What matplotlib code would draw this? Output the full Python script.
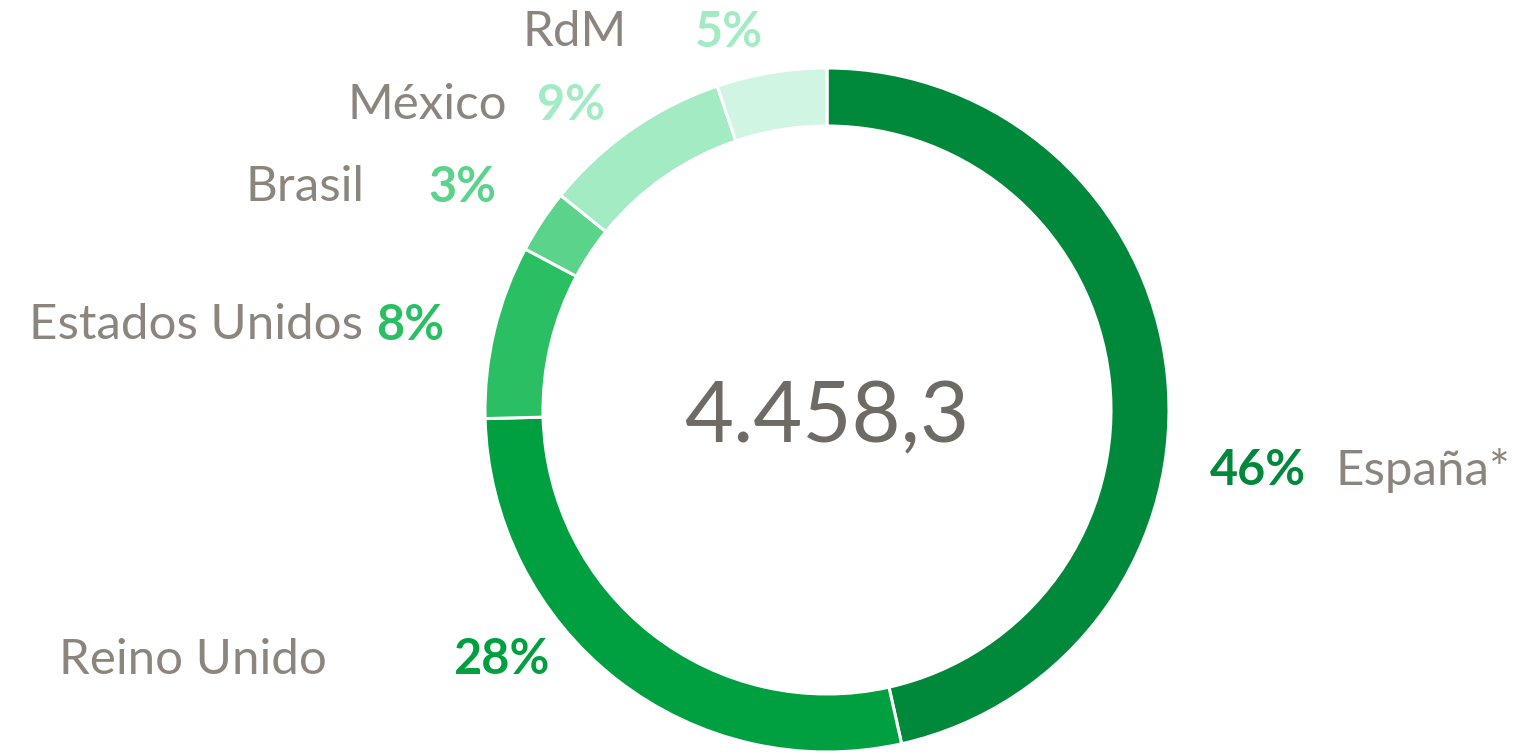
import matplotlib
matplotlib.use("Agg")
import matplotlib.pyplot as plt

# Data
categories = ["España*", "Reino Unido", "Estados Unidos", "Brasil", "México", "RdM"]
values = [46.5, 28.1, 8.2, 3.0, 9.0, 5.2]
pct_labels = ["46%", "28%", "8%", "3%", "9%", "5%"]
total_label = "4.458,3"

slice_colors = ["#00893A", "#00A040", "#2BBF64", "#5BD38A", "#A2EBC3", "#D0F5E2"]
pct_colors = ["#00893A", "#00A040", "#2BBF64", "#5BD38A", "#A2EBC3", "#A2EBC3"]
label_color = "#8C857D"
center_color = "#6E6A66"

W, H = 1520, 753
fig = plt.figure(figsize=(W / 100, H / 100), dpi=100)
ax = fig.add_axes([0, 0, 1, 1])

cx, cy = 827, H - 410
R = 342
ax.pie(values, colors=slice_colors, startangle=90, counterclock=False,
       center=(cx, cy), radius=R,
       wedgeprops=dict(width=58, edgecolor="white", linewidth=2.2))
ax.set_xlim(0, W)
ax.set_ylim(0, H)
ax.set_aspect("equal")
ax.axis("off")

font = "Lato"
# (label x, label ha, pct x, pct ha, y) in pixel coords
layout = {
    "España*": (1336, "left", 1306, "right", 470),
    "Reino Unido": (327, "right", 453, "left", 660),
    "Estados Unidos": (363, "right", 376, "left", 325),
    "Brasil": (365, "right", 428, "left", 187),
    "México": (507, "right", 537, "left", 105),
    "RdM": (627, "right", 695, "left", 32),
}
for cat, pct, pc in zip(categories, pct_labels, pct_colors):
    lx, lha, px, pha, y = layout[cat]
    ax.text(lx, H - y, cat, ha=lha, va="center", fontsize=35.5,
            color=label_color, family=font)
    ax.text(px, H - y, pct, ha=pha, va="center", fontsize=35,
            color=pc, family=font, fontweight="bold")

ax.text(cx, H - 418, total_label, ha="center", va="center", fontsize=61,
        color=center_color, family=font)

fig.savefig("out.png", dpi=100)
